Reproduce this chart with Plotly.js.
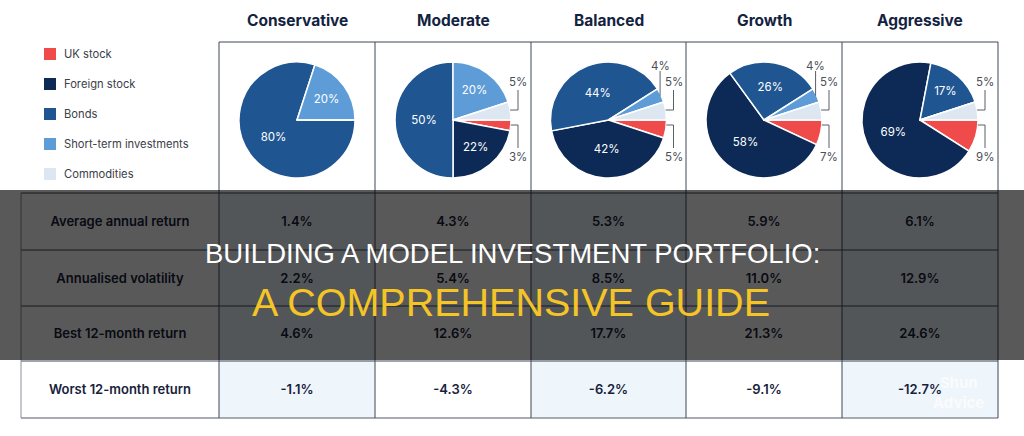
<!DOCTYPE html>
<html>
<head>
<meta charset="utf-8">
<script src="https://cdn.plot.ly/plotly-3.0.1.min.js"></script>
<style>
  html, body { margin: 0; padding: 0; background: #ffffff; }
  #chart { width: 1024px; height: 436px; }
</style>
</head>
<body>
<div id="chart"></div>
<script>
// portfolio mixes (percent of each profile)
const profiles = ['Conservative', 'Moderate', 'Balanced', 'Growth', 'Aggressive'];
const assetClasses = ['UK stock', 'Foreign stock', 'Bonds', 'Short-term investments', 'Commodities'];
const ukStock = [0, 3, 5, 7, 9];
const foreignStock = [0, 22, 42, 58, 69];
const bonds = [80, 50, 44, 26, 17];
const shortTerm = [20, 20, 4, 4, 0];
const commodities = [0, 5, 5, 5, 5];

// performance table
const metrics = ['Average annual return', 'Annualised volatility', 'Best 12-month return', 'Worst 12-month return'];
const avgReturn = [1.4, 4.3, 5.3, 5.9, 6.1];
const volatility = [2.2, 5.4, 8.5, 11.0, 12.9];
const best12m = [4.6, 12.6, 17.7, 21.3, 24.6];
const worst12m = [-1.1, -4.3, -6.2, -9.1, -12.7];

const assetColors = ['#f04b4b', '#0c2a55', '#1f5692', '#5e9cd7', '#dce7f2'];

// page grid in pixels (hidden axes run 0..1024 and 0..436)
const W = 1024, H = 436;
const colEdges = [21, 219, 375, 531, 686, 842, 998];
const rowEdges = [193, 250, 306, 361, 418];
const boxTop = 42;
const pieY = 120, pieR = 58;
const lineCol = '#3e4756';
const font = 'Inter, "Noto Sans", sans-serif';

function colCenter(i) {
    return (colEdges[i + 1] + colEdges[i + 2]) / 2;
}

let sliceValues = [ukStock, foreignStock, bonds, shortTerm, commodities];
let traces = [];
let shapes = [];
let annotations = [];

// table background tint + grid (below the traces)
for (let c = 0; c < profiles.length; c += 2) {
    shapes.push({type: 'rect', xref: 'x', yref: 'y', layer: 'below',
        x0: colEdges[c + 1], x1: colEdges[c + 2], y0: rowEdges[0], y1: rowEdges[rowEdges.length - 1],
        fillcolor: '#eef5fb', line: {width: 0}});
}
function hline(x0, x1, y, color, w) {
    shapes.push({type: 'line', xref: 'x', yref: 'y', layer: 'below', x0: x0, x1: x1, y0: y, y1: y,
        line: {color: color || lineCol, width: w || 1}});
}
function vline(x, y0, y1, color, w) {
    shapes.push({type: 'line', xref: 'x', yref: 'y', layer: 'below', x0: x, x1: x, y0: y0, y1: y1,
        line: {color: color || lineCol, width: w || 1}});
}
hline(colEdges[1], colEdges[6], boxTop);
rowEdges.forEach((y, r) => {
    if (r === rowEdges.length - 1) hline(colEdges[0], colEdges[6], y, '#8b9099', 1.5);
    else hline(colEdges[0], colEdges[6], y);
});
vline(colEdges[0], rowEdges[0], rowEdges[4], '#8b9099');
for (let c = 1; c < colEdges.length; c++) vline(colEdges[c], boxTop, rowEdges[4]);

// one pie per profile
profiles.forEach((p, i) => {
    let vals = sliceValues.map(s => s[i]);
    let cx = colCenter(i);
    traces.push({
        type: 'pie',
        labels: assetClasses,
        values: vals,
        sort: false,
        direction: 'clockwise',
        rotation: 90,
        marker: {colors: assetColors, line: {color: '#ffffff', width: 1.5}},
        texttemplate: '%{value}%',
        textposition: vals.map(v => v >= 10 ? 'inside' : 'none'),
        insidetextorientation: 'horizontal',
        insidetextfont: {family: font, size: 11.5, color: '#ffffff'},
        hoverinfo: 'skip',
        showlegend: false,
        domain: {
            x: [(cx - pieR) / W, (cx + pieR) / W],
            y: [1 - (pieY + pieR) / H, 1 - (pieY - pieR) / H]
        }
    });

    // heading
    annotations.push({xref: 'x', yref: 'y', x: cx, y: 20, text: p, showarrow: false,
        font: {family: font, size: 15.5, color: '#13233f', weight: 700}});

    // small slices get a label outside with a bracket line
    let lbl = (x, y, v) => annotations.push({xref: 'x', yref: 'y', x: x, y: y, text: v + '%', showarrow: false,
        font: {family: font, size: 11.5, color: '#4a4f58'}});
    let seg = (x0, y0, x1, y1) => shapes.push({type: 'line', xref: 'x', yref: 'y', x0: x0, y0: y0, x1: x1, y1: y1,
        line: {color: '#5a5f66', width: 1}});
    let bx = cx + 65;
    if (ukStock[i] > 0 && ukStock[i] < 10) {
        seg(cx + Math.sqrt(pieR * pieR - 25), pieY + 5, bx, pieY + 5);
        seg(bx, pieY + 5, bx, pieY + 28);
        lbl(bx, pieY + 37, ukStock[i]);
    }
    if (commodities[i] > 0 && commodities[i] < 10) {
        seg(cx + Math.sqrt(pieR * pieR - 100), pieY - 10, bx, pieY - 10);
        seg(bx, pieY - 10, bx, pieY - 30);
        lbl(bx, pieY - 38, commodities[i]);
    }
    if (shortTerm[i] > 0 && shortTerm[i] < 10) {
        let mid = (commodities[i] + shortTerm[i] / 2) * 3.6 * Math.PI / 180;
        let rx = cx + (pieR - 1) * Math.cos(mid);
        seg(rx, pieY - (pieR - 1) * Math.sin(mid), rx, pieY - 49);
        lbl(rx, pieY - 54, shortTerm[i]);
    }
});

// table text as a text trace so the banner darkens it
const tableRows = [avgReturn, volatility, best12m, worst12m];
let tx = [], ty = [], tt = [];
metrics.forEach((m, r) => {
    let yc = (rowEdges[r] + rowEdges[r + 1]) / 2 + 1.5;
    tx.push((colEdges[0] + colEdges[1]) / 2); ty.push(yc); tt.push(m);
    tableRows[r].forEach((v, c) => {
        tx.push(colCenter(c)); ty.push(yc); tt.push(v.toFixed(1) + '%');
    });
});
traces.push({
    type: 'scatter', mode: 'text', x: tx, y: ty, text: tt,
    textposition: 'middle center',
    textfont: {family: font, size: 13, color: '#17223a', weight: 600},
    hoverinfo: 'skip', showlegend: false, cliponaxis: false
});

// legend
assetClasses.forEach((a, k) => {
    let y = 54 + 30 * k;
    shapes.push({type: 'rect', xref: 'x', yref: 'y', x0: 44, x1: 56, y0: y - 6, y1: y + 6,
        fillcolor: assetColors[k], line: {width: 0}});
    annotations.push({xref: 'x', yref: 'y', x: 62, y: y, xanchor: 'left', text: a, showarrow: false,
        font: {family: font, size: 11.2, color: '#3b4049'}});
});

// dark banner over the table with the page title
shapes.push({type: 'rect', xref: 'x', yref: 'y', layer: 'above', x0: 0, x1: W, y0: 190, y1: 360,
    fillcolor: 'rgba(0,0,0,0.65)', line: {width: 0}});
annotations.push({xref: 'x', yref: 'y', x: 512, y: 253, text: 'BUILDING A MODEL INVESTMENT PORTFOLIO:', showarrow: false,
    font: {family: '"Liberation Sans", Arial, sans-serif', size: 27.5, color: '#ffffff'}});
annotations.push({xref: 'x', yref: 'y', x: 511, y: 301.5, text: 'A COMPREHENSIVE GUIDE', showarrow: false,
    font: {family: '"Liberation Sans", Arial, sans-serif', size: 39.5, color: '#f5c526'}});
annotations.push({xref: 'x', yref: 'y', x: 958, y: 392, text: 'Shun<br>Advice', showarrow: false,
    font: {family: font, size: 15, color: 'rgba(255,255,255,0.7)', weight: 700}});

let layout = {
    width: W,
    height: H,
    margin: {l: 0, r: 0, t: 0, b: 0},
    paper_bgcolor: '#ffffff',
    plot_bgcolor: 'rgba(0,0,0,0)',
    showlegend: false,
    xaxis: {range: [0, W], visible: false, fixedrange: true},
    yaxis: {range: [H, 0], visible: false, fixedrange: true},
    shapes: shapes,
    annotations: annotations
};

const config = {displayModeBar: false, staticPlot: true};

Plotly.newPlot('chart', traces, layout, config);
</script>
</body>
</html>
